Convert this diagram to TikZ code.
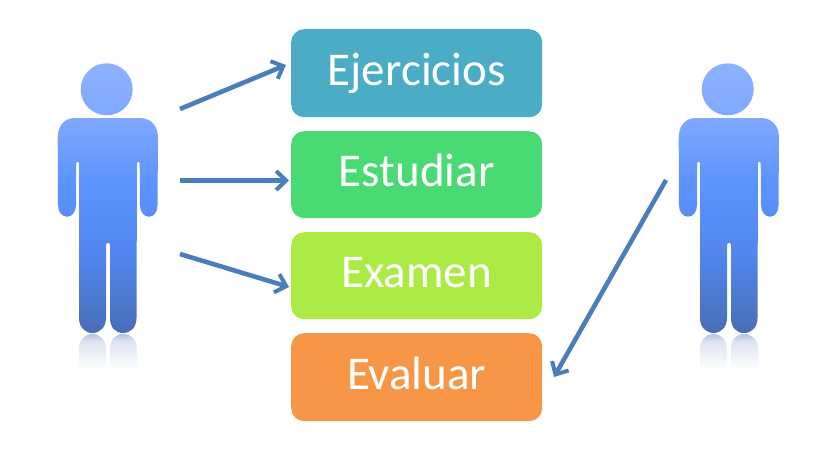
\documentclass[tikz,border=0pt]{standalone}
\usepackage{fontspec}
\setmainfont{Carlito}
\usetikzlibrary{arrows.meta}
\definecolor{arrowblue}{HTML}{4A7EBB}
\definecolor{personT}{HTML}{8CB1FF}
\definecolor{personA}{HTML}{7FA8FF}
\definecolor{personB}{HTML}{5E94FF}
\definecolor{personC}{HTML}{4F85EC}
\definecolor{personD}{HTML}{4A6DB5}
\definecolor{reflectT}{HTML}{B4C3E2}
\definecolor{boxa}{HTML}{4BACC6}
\definecolor{boxb}{HTML}{4ADA74}
\definecolor{boxc}{HTML}{ABEB44}
\definecolor{boxd}{HTML}{F79646}
\pgfdeclareverticalshading{personshade}{100bp}{
  color(0bp)=(personD); color(25bp)=(personD);
  color(38.5bp)=(personC); color(53.3bp)=(personB);
  color(64.8bp)=(personA); color(75bp)=(personT); color(100bp)=(personT)}
\pgfdeclareverticalshading{reflectshade}{100bp}{
  color(0bp)=(white); color(25bp)=(white); color(65bp)=(reflectT!45!white); color(75bp)=(reflectT); color(100bp)=(reflectT)}
\tikzset{
  taskbox/.style={rounded corners=13pt,minimum width=251pt,inner sep=0pt,text=white,text height=24pt,text depth=0pt,font=\fontsize{47}{50}\selectfont,anchor=north west},
  flow/.style={draw=arrowblue,line width=4.6pt,-{Straight Barb[length=10pt,width=19pt,line width=4pt]}},
  persondraw/.pic={
    \shade[shading=personshade]
      (106.7,89.3) circle [radius=26]
      (75,118) -- (140,118) .. controls (151,118) and (158,126) .. (158,138)
      -- (157.5,205) .. controls (157.5,212) and (154,216.7) .. (149,216.7)
      .. controls (144,216.7) and (140,212) .. (140,205) -- (139.7,163)
      .. controls (139.7,161) and (137,161) .. (137,163) -- (136.5,318)
      .. controls (136.5,327) and (131,333) .. (123,333)
      .. controls (115,333) and (110,327) .. (110,318) -- (110,245)
      .. controls (110,242) and (106,242) .. (106,245) -- (106,318)
      .. controls (106,327) and (100,333) .. (92.5,333)
      .. controls (85,333) and (79,327) .. (79,318) -- (79,163)
      .. controls (79,161) and (76,161) .. (76,163) -- (76,205)
      .. controls (76,212) and (72,216.7) .. (67,216.7)
      .. controls (62,216.7) and (58,212) .. (58,205) -- (57.7,138)
      .. controls (57.7,126) and (64,118) .. (75,118) -- cycle;
    \shade[shading=reflectshade]
      (79,370) -- (79,349) .. controls (79,340) and (85,334) .. (92.5,334)
      .. controls (100,334) and (106,340) .. (106,349) -- (106,370) -- cycle
      (110,370) -- (110,349) .. controls (110,340) and (115,334) .. (123,334)
      .. controls (131,334) and (137,340) .. (137,349) -- (137,370) -- cycle;
  }
}
\begin{document}
\begin{tikzpicture}[x=1pt,y=-1pt]
\useasboundingbox (0,0) rectangle (817,460);
\pic at (0,0) {persondraw};
\pic at (621,0) {persondraw};
\node[taskbox,fill=boxa,minimum height=88pt] (ej) at (291,29) {Ejercicios};
\node[taskbox,fill=boxb,minimum height=87pt] (es) at (291,131) {Estudiar};
\node[taskbox,fill=boxc,minimum height=87pt] (ex) at (291,232) {Examen};
\node[taskbox,fill=boxd,minimum height=88pt] (ev) at (291,333) {Evaluar};
\coordinate (s1) at (180,109);
\coordinate (s2) at (180,180.5);
\coordinate (s3) at (180,254);
\coordinate (s4) at (666,180);
\coordinate (e1) at (286,65);
\coordinate (e2) at (289,180.5);
\coordinate (e3) at (289,287);
\coordinate (e4) at (554,377);
\draw[flow] (s1) -- (e1);
\draw[flow] (s2) -- (e2);
\draw[flow] (s3) -- (e3);
\draw[flow] (s4) -- (e4);
\end{tikzpicture}
\end{document}
